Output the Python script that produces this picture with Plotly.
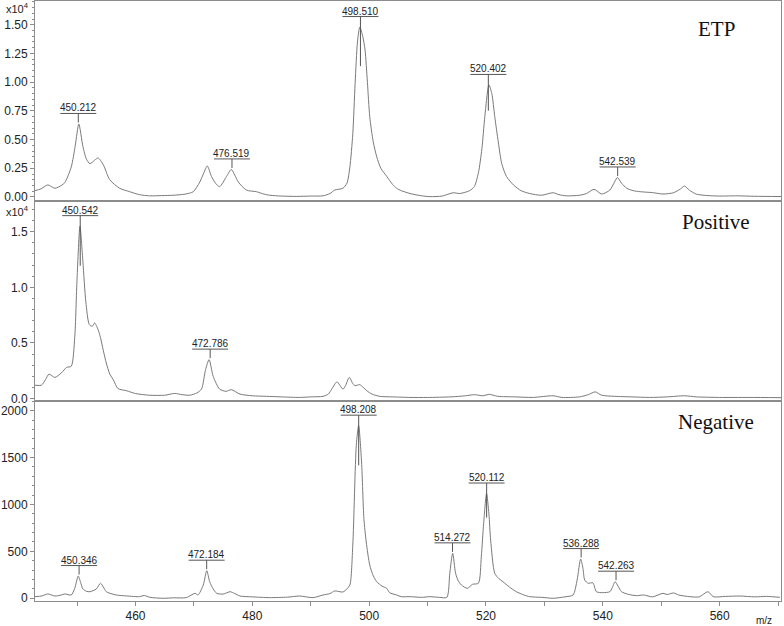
import plotly.graph_objects as go
from plotly.subplots import make_subplots

# ---------------- data ----------------
etp_mz = [442.8, 443.8, 445.0, 446.2, 447.3, 447.9, 449.0, 449.7, 450.3, 451.0, 451.6, 452.2, 453.0,
          453.6, 454.5, 455.6, 457.3, 459.0, 460.7, 462.4, 464.5, 466.4, 468.5, 469.9, 471.0, 471.7,
          472.3, 473.0, 473.7, 474.4, 475.6, 476.4, 477.0, 477.6, 479.0, 480.7, 482.0, 483.0, 485.0,
          487.6, 490.0, 492.1, 493.3, 494.1, 495.5, 496.2, 496.7, 497.2, 497.6, 498.0, 498.4, 498.9,
          499.3, 499.7, 500.1, 500.7, 501.3, 502.0, 503.0, 504.0, 504.7, 505.5, 507.0, 509.0, 510.4,
          512.5, 514.4, 515.5, 517.2, 518.0, 518.7, 519.3, 519.8, 520.5, 521.0, 521.5, 522.1, 522.7,
          523.5, 524.7, 526.0, 527.5, 529.5, 531.5, 532.5, 533.8, 536.0, 537.2, 538.5, 539.8, 541.2,
          542.0, 542.5, 543.2, 544.1, 545.2, 546.4, 548.5, 550.3, 552.1, 553.3, 554.0, 554.8, 556.0,
          558.0, 560.0, 563.0, 566.0, 570.5]
etp_int = [550, 700, 1050, 760, 1000, 1250, 2600, 4500, 6360, 4400, 3300, 2900, 3200,
           3400, 2800, 1500, 760, 460, 200, 100, 120, 150, 250, 460, 1300, 2100,
           2700, 1800, 1200, 900, 1800, 2400, 1900, 1300, 600, 460, 250, 150, 80,
           50, 80, 100, 300, 600, 760, 1200, 2600, 5500, 9900, 13500, 14800, 14000,
           12800, 10000, 7000, 4800, 3500, 2500, 1800, 1100, 760, 550, 300, 100, 30,
           80, 370, 300, 550, 900, 2100, 4200, 7000, 9760, 9000, 7000, 4800, 2900,
           1800, 1050, 550, 300, 150, 370, 200, 100, 150, 300, 670, 260, 600,
           1300, 1700, 1200, 760, 550, 460, 380, 260, 370, 700, 950, 600, 250,
           120, 80, 100, 60, 40]

pos_mz = [442.8, 443.9, 444.6, 445.2, 446.2, 447.3, 448.2, 449.0, 449.6, 450.0, 450.5, 451.0, 451.5,
          452.1, 452.6, 453.0, 453.6, 454.0, 454.5, 455.0, 455.6, 456.2, 457.0, 458.5, 460.0, 462.4,
          465.0, 466.7, 468.0, 469.3, 470.5, 471.3, 472.0, 472.6, 473.3, 474.4, 475.5, 476.4, 477.9,
          480.0, 482.4, 485.0, 488.1, 490.0, 492.1, 493.0, 493.6, 494.5, 495.5, 495.9, 496.6, 497.2,
          497.6, 498.4, 499.0, 499.6, 500.5, 501.8, 504.0, 507.0, 510.0, 514.0, 516.5, 518.0, 519.5,
          520.5, 522.0, 525.0, 528.0, 531.5, 533.0, 536.0, 537.5, 538.7, 539.8, 542.0, 545.0, 548.0,
          551.0, 554.0, 556.0, 560.0, 565.0, 570.5]
pos_int = [1200, 1200, 1700, 2200, 1900, 2300, 2800, 2900, 5500, 10800, 15500, 12300, 8700,
           6650, 6500, 6800, 6200, 5500, 4300, 3200, 2200, 1700, 900, 700, 450, 300,
           300, 460, 350, 300, 500, 850, 2600, 3500, 2000, 850, 650, 800, 400,
           250, 200, 150, 100, 150, 200, 400, 850, 1500, 850, 1100, 1900, 1350,
           1160, 1250, 1000, 700, 400, 200, 150, 100, 100, 150, 250, 350, 250,
           380, 200, 150, 100, 250, 100, 150, 350, 600, 300, 200, 150, 100,
           150, 250, 150, 100, 100, 80]

neg_mz = [442.8, 444.0, 445.0, 446.2, 447.3, 447.9, 449.0, 449.6, 450.2, 450.6, 451.0, 451.6, 452.2,
          453.3, 454.0, 454.5, 455.0, 456.7, 458.5, 460.7, 461.5, 462.5, 464.7, 466.5, 468.7, 470.2,
          470.7, 471.6, 472.2, 472.7, 473.3, 473.9, 475.0, 476.2, 477.0, 477.9, 480.0, 483.0, 486.0,
          488.1, 490.4, 492.1, 493.3, 494.1, 495.5, 496.2, 496.7, 497.2, 497.8, 498.2, 498.7, 499.1,
          499.5, 500.1, 500.7, 501.3, 502.2, 503.0, 503.5, 504.7, 505.5, 507.0, 509.0, 510.4, 512.0,
          513.3, 513.8, 514.3, 514.8, 515.3, 515.8, 516.8, 517.7, 518.7, 519.2, 519.6, 520.1, 520.5,
          520.8, 521.5, 522.2, 522.9, 524.0, 525.2, 526.5, 527.5, 529.5, 531.5, 533.5, 534.9, 535.6,
          536.2, 536.6, 536.9, 537.5, 538.3, 538.9, 540.0, 541.2, 541.6, 542.1, 542.6, 543.2, 544.5,
          545.8, 547.0, 548.5, 550.3, 551.0, 552.1, 553.0, 554.9, 556.5, 558.0, 558.9, 561.0, 563.5,
          566.0, 568.0, 570.3]
neg_int = [17, 25, 46, 24, 35, 46, 35, 106, 237, 170, 99, 75, 70,
           99, 160, 120, 70, 35, 25, 17, 30, 10, 0, 5, 7, 53,
           35, 141, 294, 177, 100, 53, 45, 70, 50, 24, 15, 7, 12,
           24, 7, 35, 50, 78, 67, 100, 141, 567, 1630, 1840, 1453, 851,
           600, 354, 240, 177, 130, 106, 60, 35, 17, 17, 10, 17, 10,
           10, 266, 479, 266, 180, 141, 106, 149, 160, 443, 800, 1117, 900,
           620, 266, 210, 177, 120, 70, 35, 17, 10, 0, 15, 35, 195,
           418, 320, 195, 160, 165, 70, 60, 70, 110, 177, 130, 70, 40,
           28, 35, 15, 53, 40, 57, 35, 17, 15, 70, 17, 20, 24,
           15, 20, 10]

etp_labels = ["450.212", "476.519", "498.510", "520.402", "542.539"]
pos_labels = ["450.542", "472.786"]
neg_labels = ["450.346", "472.184", "498.208", "514.272", "520.112", "536.288", "542.263"]

panel_names = ["ETP", "Positive", "Negative"]

etp_ticks = [0, 2500, 5000, 7500, 10000, 12500, 15000]
etp_ticktext = ["0.00", "0.25", "0.50", "0.75", "1.00", "1.25", "1.50"]
pos_ticks = [0, 5000, 10000, 15000]
pos_ticktext = ["0.0", "0.5", "1.0", "1.5"]
neg_ticks = [0, 500, 1000, 1500, 2000]
neg_ticktext = ["0", "500", "1000", "1500", "2000"]

# ---------------- styles ----------------
W, H = 784, 626
ML, MR, MT, MB = 35, 3, 1, 25
PANEL_PX = (H - MT - MB) / 3.0
LINE_C = "#7a7a7a"
AX_C = "#8c8c8c"
TXT_C = "#222222"
SANS = "Liberation Sans, Arial, sans-serif"
SERIF = "Liberation Serif, Times New Roman, serif"

x_range = [442.8, 570.5]
y_ranges = [[-350, 17070], [-220, 17760], [-29, 2103]]

fig = make_subplots(rows=3, cols=1, shared_xaxes=True, vertical_spacing=0)

series = [(etp_mz, etp_int, etp_labels), (pos_mz, pos_int, pos_labels), (neg_mz, neg_int, neg_labels)]
for i, (mz, inten, labels) in enumerate(series):
    row = i + 1
    fig.add_trace(go.Scatter(x=mz, y=inten, mode="lines",
                             line=dict(color=LINE_C, width=1, shape="spline", smoothing=0.7),
                             hoverinfo="skip", showlegend=False), row=row, col=1)
    xr = "x" if row == 1 else f"x{row}"
    yr = "y" if row == 1 else f"y{row}"
    ymin, ymax = y_ranges[i]
    px_per_unit = PANEL_PX / (ymax - ymin)
    for lab in labels:
        lx = float(lab)
        near = [v for m, v in zip(mz, inten) if abs(m - lx) <= 0.5]
        peak = max(near)
        hpx = peak * px_per_unit
        drop = -0.23 * hpx if hpx > 90 else 1.5
        fig.add_annotation(x=lx, y=peak, xref=xr, yref=yr, text=lab, showarrow=False,
                           yanchor="middle", yshift=16,
                           font=dict(family=SANS, size=10, color=TXT_C))
        fig.add_shape(type="line", xref=xr, yref=yr, xsizemode="pixel", ysizemode="pixel",
                      xanchor=lx, yanchor=peak, x0=-18, x1=18, y0=10.5, y1=10.5,
                      line=dict(color="#555555", width=1))
        fig.add_shape(type="line", xref=xr, yref=yr, ysizemode="pixel",
                      x0=lx, x1=lx, yanchor=peak, y0=10.5, y1=drop,
                      line=dict(color="#555555", width=1))
    fig.add_annotation(text=panel_names[i], xref=f"{xr} domain", yref=f"{yr} domain",
                       x=0.913, y=0.86 if i == 0 else 0.893, xanchor="center", yanchor="middle",
                       showarrow=False, font=dict(family=SERIF, size=21, color="#111111"))

for i in range(3):
    row = i + 1
    fig.update_xaxes(range=x_range, showline=True, linecolor=AX_C, linewidth=1, mirror=True,
                     showgrid=False, zeroline=False, automargin=False, row=row, col=1)
    fig.update_yaxes(range=y_ranges[i], showline=True, linecolor=AX_C, linewidth=1, mirror=True,
                     showgrid=False, zeroline=False, ticks="outside", ticklen=4, tickcolor=AX_C,
                     automargin=False,
                     tickfont=dict(family=SANS, size=12, color=TXT_C), row=row, col=1)

fig.update_yaxes(tickmode="array", tickvals=etp_ticks, ticktext=etp_ticktext,
                 minor=dict(dtick=500, ticks="outside", ticklen=2, tickcolor=AX_C), row=1, col=1)
fig.update_yaxes(tickmode="array", tickvals=pos_ticks, ticktext=pos_ticktext,
                 minor=dict(dtick=1000, ticks="outside", ticklen=2, tickcolor=AX_C), row=2, col=1)
fig.update_yaxes(tickmode="array", tickvals=neg_ticks, ticktext=neg_ticktext,
                 minor=dict(dtick=100, ticks="outside", ticklen=2, tickcolor=AX_C), row=3, col=1)
fig.update_xaxes(tick0=460, dtick=20, ticks="outside", ticklen=4, tickcolor=AX_C,
                 tickfont=dict(family=SANS, size=12, color=TXT_C),
                 minor=dict(dtick=10, tick0=460, ticks="outside", ticklen=4, tickcolor=AX_C),
                 row=3, col=1)

# exponent markers and axis title
for i, yr in enumerate(["y", "y2"]):
    fig.add_annotation(text="x10<sup>4</sup>", xref="paper", yref=f"{yr} domain",
                       x=-0.042, y=1.0, xanchor="left", yanchor="top", showarrow=False,
                       yshift=2 if i == 0 else -1,
                       font=dict(family=SANS, size=11, color=TXT_C))
fig.add_annotation(text="m/z", xref="paper", yref="paper", x=1.0, y=0, xanchor="right",
                   yanchor="top", yshift=-12, xshift=-7, showarrow=False,
                   font=dict(family=SANS, size=10, color=TXT_C))

fig.update_layout(width=W, height=H, margin=dict(l=ML, r=MR, t=MT, b=MB, autoexpand=False),
                  plot_bgcolor="white", paper_bgcolor="white", showlegend=False)

fig.write_html("out.html", config={"displayModeBar": False},
               post_script="document.body.style.margin='0px';document.body.style.overflow='hidden';")
